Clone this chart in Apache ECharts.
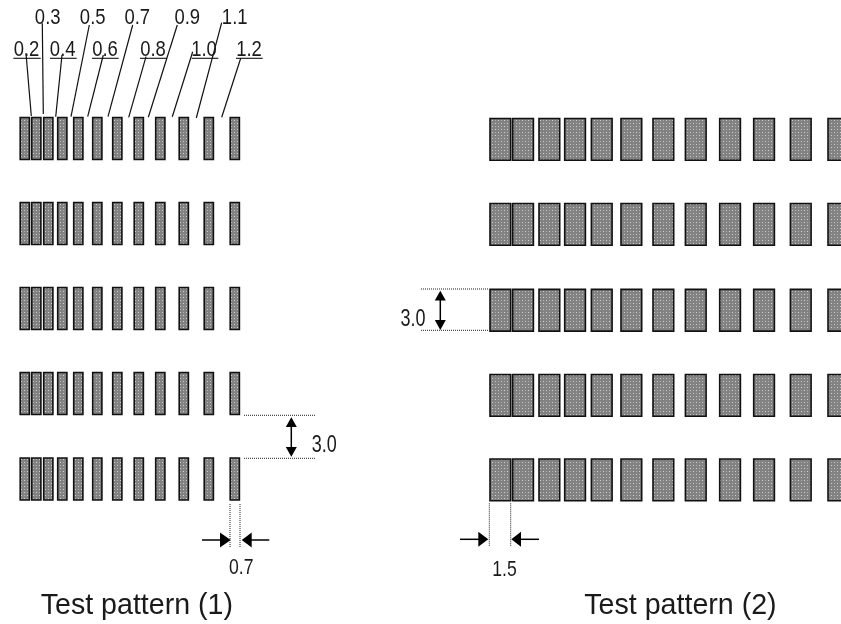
<!DOCTYPE html>
<html>
<head>
<meta charset="utf-8">
<style>html,body{margin:0;padding:0;background:#fff}#c{width:841px;height:624px}</style>
<script src="https://cdn.jsdelivr.net/npm/echarts@6/dist/echarts.min.js"></script>
</head>
<body>
<div id="c"></div>
<script>
// Drawing units on both axes: the diagram's own 841 x 624 sheet.
const sheetWidth = 841, sheetHeight = 624;

// Test pattern (1)
const p1BarLeft = [20.2, 31.7, 43.7, 57.7, 73.7, 92.7, 112.7, 134.2, 155.7, 179.2, 204.2, 230.2];
const p1BarWidth = 9.2;
const p1RowTop = [117.5, 202.5, 287.5, 372.5, 458];
const p1BarHeight = 42;

// Test pattern (2)
const p2BarLeft = [490, 512.7, 539, 564.7, 591.4, 621, 653, 685.4, 719.7, 753.7, 790.4, 828];
const p2BarWidth = 20.7;
const p2RowTop = [118.5, 203.5, 289.4, 374.5, 459];
const p2BarHeight = 41.7;

// Line-width labels and their leader lines [x1, y1, x2, y2]
const widthLabels = ['0.2','0.3','0.4','0.5','0.6','0.7','0.8','0.9','1.0','1.1','1.2'];
const widthLabelX = [26.5, 47.7, 62.7, 92.7, 105, 137.3, 153, 187.3, 204, 234.7, 249];
const widthLabelBaseline = [56.5, 25, 56.5, 25, 56.5, 25, 56.5, 25, 56.5, 25, 56.5];
const leaderLines = [
  [26,53.3,31.3,116],[42.3,23.3,43.3,114],[62,55,55.7,116.7],[89.3,25,71,116.7],
  [103.3,55,87.7,116.7],[132.7,25,108,116.7],[146,56.7,128.7,117.3],[177.3,25,148.3,117.3],
  [192.7,51.7,172.3,116.7],[221.7,22.7,196.3,118],[240.7,58.3,221.7,117.3]
];
const underlines = [
  [13.3,58.3,40.7,58.3],[50,58.3,76.7,58.3],[92,58.3,118.7,58.3],
  [140,58.3,166.7,58.3],[191.7,58.3,218.3,58.3],[236,58.3,262.7,58.3]
];

// Dimension marks
const dottedLines = [
  [244,415.3,316,415.3],[244,458.3,316,458.3],[230,504,230,548],[240,504,240,548],
  [421,289,489,289],[421,330.3,489,330.3],[489.3,503.3,489.3,546],[510.7,503.3,510.7,546]
];
const arrowShafts = [
  [291.3,425,291.3,449],[440.3,298,440.3,322],
  [202,540,222,540],[250,540,269.3,540],[460,539.3,480,539.3],[519,539.3,539,539.3]
];
// [tipX, tipY, baseX, baseY, halfWidth]
const arrowHeads = [
  [291.3,417.3,291.3,427,5.5],[291.3,456.7,291.3,447,5.5],
  [440.3,290.7,440.3,300.5,5.5],[440.3,330,440.3,320,5.5],
  [230.7,540,220,540,7.5],[241.7,540,251.7,540,7.5],
  [488.3,539.3,478.3,539.3,7.5],[511.3,539.3,521,539.3,7.5]
];
const dimensionLabels = ['3.0','3.0','0.7','1.5'];
const dimensionLabelX = [324.2, 413, 241.3, 504.5];
const dimensionLabelBaseline = [452.7, 326.7, 575, 576.7];
const dimensionLabelSize = [24, 24, 22, 22];

const titles = ['Test pattern (1)', 'Test pattern (2)'];
const titleX = [40.7, 584.3];
const titleBaseline = [615, 615];

// Halftone fill used inside the bars
function halftone() {
  const c = document.createElement('canvas');
  c.width = 6; c.height = 6;
  const g = c.getContext('2d');
  g.fillStyle = '#828282'; g.fillRect(0, 0, 6, 6);
  g.fillStyle = '#d2d2d2';
  g.fillRect(0, 0, 1, 1); g.fillRect(3, 3, 1, 1);
  g.fillStyle = '#aeaeae';
  g.fillRect(3, 0, 1, 1); g.fillRect(0, 3, 1, 1);
  return c;
}
const fillPattern = { image: halftone(), repeat: 'repeat' };

const barData = [];
p1RowTop.forEach(t => p1BarLeft.forEach(l => barData.push([l, t, l + p1BarWidth, t + p1BarHeight])));
p2RowTop.forEach(t => p2BarLeft.forEach(l => barData.push([l, t, l + p2BarWidth, t + p2BarHeight])));

const font = '"Liberation Sans", Arial, sans-serif';
const textData = [];
widthLabels.forEach((s, i) => textData.push({ value: [widthLabelX[i], widthLabelBaseline[i]], s, size: 22, sx: 0.84, align: 'center' }));
dimensionLabels.forEach((s, i) => textData.push({ value: [dimensionLabelX[i], dimensionLabelBaseline[i]], s, size: dimensionLabelSize[i], sx: dimensionLabelSize[i] === 24 ? 0.75 : 0.8, align: 'center' }));
titles.forEach((s, i) => textData.push({ value: [titleX[i], titleBaseline[i]], s, size: 28.6, sx: 1, align: 'left' }));

function lineSeries(data, style) {
  return {
    type: 'custom', coordinateSystem: 'cartesian2d', clip: false, silent: true,
    encode: { x: [0, 2], y: [1, 3] }, data,
    renderItem(p, api) {
      const a = api.coord([api.value(0), api.value(1)]);
      const b = api.coord([api.value(2), api.value(3)]);
      return { type: 'line', shape: { x1: a[0], y1: a[1], x2: b[0], y2: b[1] }, style };
    }
  };
}

const option = {
  animation: false,
  backgroundColor: '#fff',
  grid: { left: 0, right: 0, top: 0, bottom: 0 },
  xAxis: { type: 'value', min: 0, max: sheetWidth, show: false },
  yAxis: { type: 'value', min: 0, max: sheetHeight, inverse: true, show: false },
  series: [
    {
      type: 'custom', coordinateSystem: 'cartesian2d', clip: true, silent: true,
      encode: { x: [0, 2], y: [1, 3] }, data: barData,
      renderItem(p, api) {
        const a = api.coord([api.value(0), api.value(1)]);
        const b = api.coord([api.value(2), api.value(3)]);
        return { type: 'rect', shape: { x: a[0], y: a[1], width: b[0] - a[0], height: b[1] - a[1] },
          style: { fill: fillPattern, stroke: '#111', lineWidth: 1.6 } };
      }
    },
    lineSeries(leaderLines, { stroke: '#111', lineWidth: 1.2 }),
    lineSeries(underlines, { stroke: '#111', lineWidth: 1.1 }),
    lineSeries(dottedLines, { stroke: '#222', lineWidth: 1, lineDash: [1, 1] }),
    lineSeries(arrowShafts, { stroke: '#000', lineWidth: 1.5 }),
    {
      type: 'custom', coordinateSystem: 'cartesian2d', clip: false, silent: true,
      encode: { x: [0, 2], y: [1, 3] }, data: arrowHeads,
      renderItem(p, api) {
        const tip = [api.value(0), api.value(1)], base = [api.value(2), api.value(3)], h = api.value(4);
        const vertical = tip[0] === base[0];
        const c1 = vertical ? [base[0] - h, base[1]] : [base[0], base[1] - h];
        const c2 = vertical ? [base[0] + h, base[1]] : [base[0], base[1] + h];
        return { type: 'polygon', shape: { points: [api.coord(tip), api.coord(c1), api.coord(c2)] }, style: { fill: '#000' } };
      }
    },
    {
      type: 'custom', coordinateSystem: 'cartesian2d', clip: false, silent: true,
      encode: { x: 0, y: 1 }, data: textData,
      renderItem(p, api) {
        const d = textData[p.dataIndex];
        const a = api.coord(d.value);
        return { type: 'text', x: a[0], y: a[1] - d.size * 0.3, scaleX: d.sx,
          style: { text: d.s, fill: '#1a1a1a', font: d.size + 'px ' + font, textAlign: d.align, textVerticalAlign: 'middle', verticalAlign: 'middle' } };
      }
    }
  ]
};
const chart = echarts.init(document.getElementById('c'), null, { renderer: 'canvas' });
chart.setOption(option);
</script>
</body>
</html>
